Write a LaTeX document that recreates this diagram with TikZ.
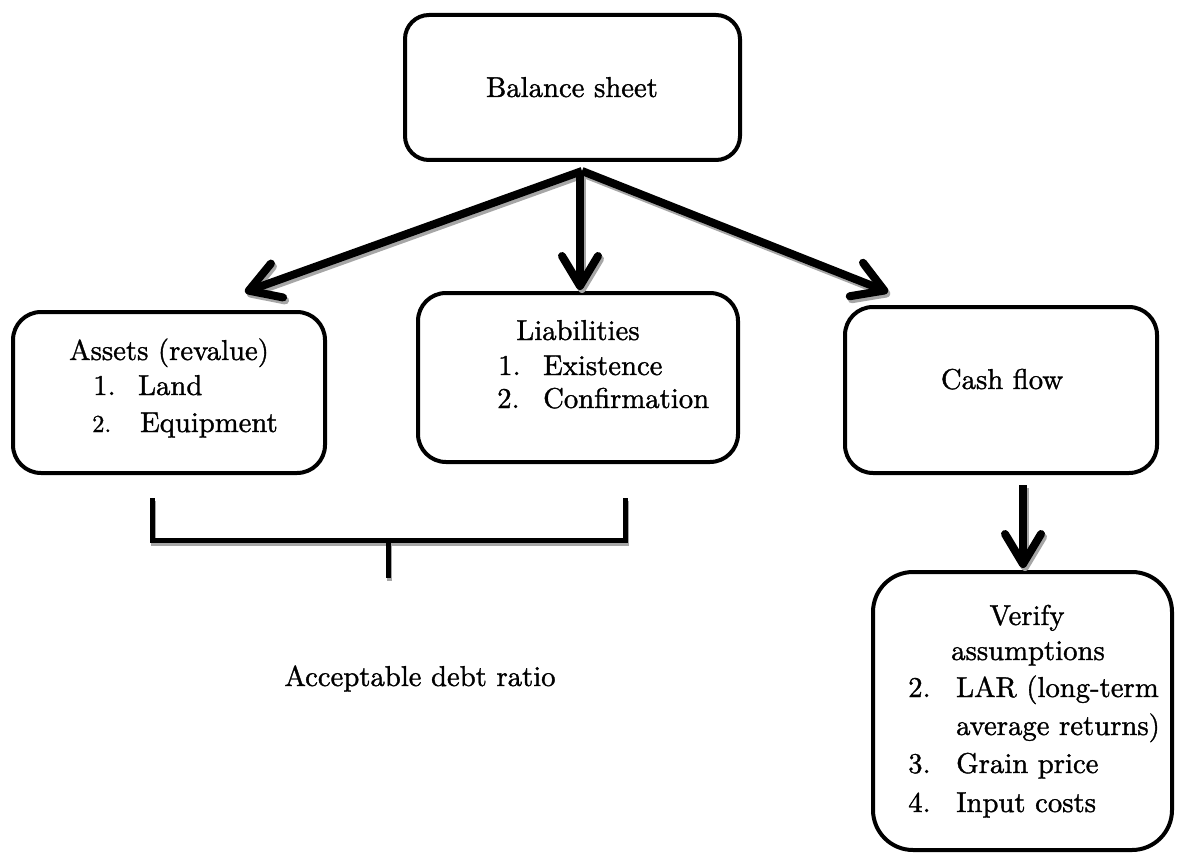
\documentclass[tikz,border=0pt]{standalone}
\usepackage{fontspec}
\setmainfont{lmroman10-regular}[Extension=.otf, FakeBold=1.2]
\usetikzlibrary{arrows.meta}
\newcommand\dgfont{\fontsize{28.7pt}{36pt}\selectfont}
\newcommand\dgsmall{\fontsize{24.5pt}{32pt}\selectfont}
\begin{document}
\begin{tikzpicture}[x=1pt,y=-1pt,
  every node/.style={font=\dgfont},
  box/.style={draw, line width=4pt, rounded corners=#1, inner sep=0pt},
  box/.default=28pt,
  txt/.style={anchor=base, inner sep=0pt},
  txtw/.style={anchor=base west, inner sep=0pt},
  bigarrow/.style={line width=8pt, line join=miter,
    -{Straight Barb[length=30pt, width=36pt, line cap=round, line join=round]}},
  arrowshadow/.style={bigarrow, draw=black!35, transform canvas={shift={(2pt,-3pt)}}},
  bracketline/.style={line width=5pt},
  bracketshadow/.style={bracketline, draw=black!35, transform canvas={shift={(1pt,-3pt)}}}
]
\useasboundingbox (0,0) rectangle (1177,853);

% boxes
\node[box=24pt, minimum width=335pt, minimum height=145pt] (bal) at (572.5,87.5) {};
\node[box, minimum width=312pt, minimum height=161pt] (assets) at (169,392.5) {};
\node[box, minimum width=320pt, minimum height=169pt] (liab) at (578,377.5) {};
\node[box, minimum width=312pt, minimum height=166pt] (cash) at (1001,390) {};
\node[box=40pt, minimum width=299pt, minimum height=278pt] (verify) at (1022.5,711) {};

% box texts
\node[txt] (balT) at (572,97) {Balance sheet};

\node[txt] (assetsT) at (169,360) {Assets (revalue)};
\node[txtw] (assets1) at (93,395) {\makebox[45pt][l]{1.}Land};
\node[txtw] (assets2) at (92,432) {\makebox[48pt][l]{\dgsmall 2.}Equipment};

\node[txt] (liabT) at (578,340) {Liabilities};
\node[txtw] (liab1) at (498,375) {\makebox[45pt][l]{1.}Existence};
\node[txtw] (liab2) at (497,408) {\makebox[46pt][l]{2.}Confirmation};

\node[txt] (cashT) at (1002,389) {Cash flow};

\node[txt] (verT1) at (1027,625) {Verify};
\node[txt] (verT2) at (1028,660) {assumptions};
\node[txtw] (ver2) at (908,697) {\makebox[48pt][l]{2.}LAR (long-term};
\node[txtw] (ver2b) at (956,735) {average returns)};
\node[txtw] (ver3) at (908,773) {\makebox[48pt][l]{3.}Grain price};
\node[txtw] (ver4) at (908,812) {\makebox[48pt][l]{4.}Input costs};

\node[txt] (ratio) at (420,686) {Acceptable debt ratio};

% arrow end points
\coordinate (hub) at (582,171);
\coordinate (hubM) at (580,171);
\coordinate (tipA) at (245,292);
\coordinate (tipL) at (580,290);
\coordinate (tipC) at (888,292);
\coordinate (cashOut) at (1023,485);
\coordinate (tipV) at (1023,568);

% shadows of the arrows
\draw[arrowshadow] (hub) -- (tipA);
\draw[arrowshadow] (hub) -- (tipC);
\draw[arrowshadow] (hubM) -- (tipL);
\draw[arrowshadow] (cashOut) -- (tipV);
% arrows
\draw[bigarrow] (hub) -- (tipA);
\draw[bigarrow] (hub) -- (tipC);
\draw[bigarrow] (hubM) -- (tipL);
\draw[bigarrow] (cashOut) -- (tipV);

% bracket joining assets and liabilities
\coordinate (brL) at (152,498);
\coordinate (brR) at (625,498);
\coordinate (brM) at (388,540);
\coordinate (brEnd) at (388,578);
\draw[bracketshadow] (brL) |- (brM) -| (brR);
\draw[bracketshadow] (brM) -- (brEnd);
\draw[bracketline] (brL) |- (brM) -| (brR);
\draw[bracketline] (brM) -- (brEnd);
\end{tikzpicture}
\end{document}
